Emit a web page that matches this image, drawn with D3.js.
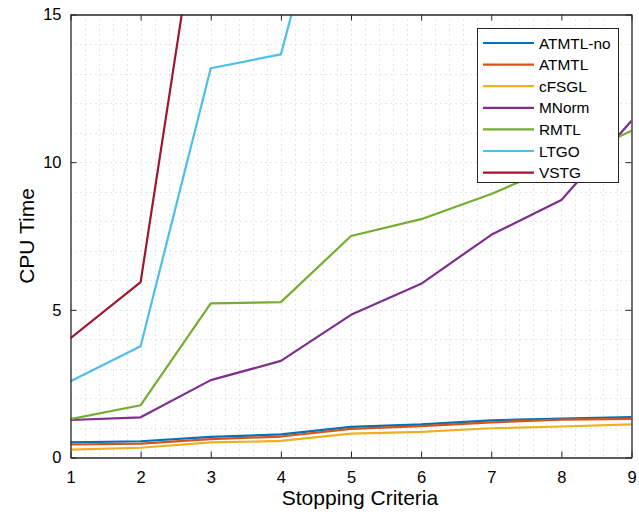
<!DOCTYPE html>
<html>
<head>
<meta charset="utf-8">
<script src="https://cdn.jsdelivr.net/npm/d3@7"></script>
<style>
  body { margin: 0; background: #fff; }
  text { font-family: "Liberation Sans", Arial, Helvetica, sans-serif; fill: #000; }
</style>
</head>
<body>
<svg id="chart" width="639" height="514"></svg>
<script>
// x = stopping criteria index
var criteria = [1, 2, 3, 4, 5, 6, 7, 8, 9];
var seriesNames = ["ATMTL-no", "ATMTL", "cFSGL", "MNorm", "RMTL", "LTGO", "VSTG"];
var seriesColors = ["#0072BD", "#D95319", "#EDB120", "#7E2F8E", "#77AC30", "#4DBEEE", "#A2142F"];

// CPU time values (LTGO/VSTG run past the top of the axis)
var atmtlNo = [0.51, 0.55, 0.70, 0.78, 1.04, 1.12, 1.26, 1.32, 1.37];
var atmtl   = [0.44, 0.47, 0.62, 0.71, 0.97, 1.06, 1.19, 1.28, 1.31];
var cfsgl   = [0.27, 0.33, 0.51, 0.56, 0.81, 0.87, 0.99, 1.05, 1.12];
var mnorm   = [1.27, 1.36, 2.62, 3.27, 4.83, 5.88, 7.54, 8.72, 11.4];
var rmtl    = [1.30, 1.77, 5.22, 5.26, 7.50, 8.07, 8.92, 9.95, 11.06];
var ltgo    = [2.58, 3.77, 13.18, 13.65, 22.5];
var vstg    = [4.04, 5.94, 21.4];

var yTicks = [0, 5, 10, 15];

var allSeries = [atmtlNo, atmtl, cfsgl, mnorm, rmtl, ltgo, vstg];

var svg = d3.select("#chart");
var mLeft = 70.5, mTop = 14.5, mRight = 631.5, mBottom = 457.5;

var xs = d3.scaleLinear().domain([1, 9]).range([mLeft, mRight]);
var ys = d3.scaleLinear().domain([0, 15]).range([mBottom, mTop]);

// grid (minor + major, dotted)
var grid = svg.append("g").attr("class", "grid");
grid.selectAll("line.gx")
    .data(d3.range(1.2, 8.9, 0.2))
    .enter().append("line")
    .attr("x1", d => Math.round(xs(d)) + 0.5)
    .attr("x2", d => Math.round(xs(d)) + 0.5)
    .attr("y1", mTop)
    .attr("y2", mBottom)
    .attr("stroke", "#cfcfcf")
    .attr("stroke-width", 1)
    .attr("stroke-dasharray", "1,4");
grid.selectAll("line.gy")
    .data(d3.range(1, 15))
    .enter().append("line")
    .attr("y1", d => Math.round(ys(d)) + 0.5)
    .attr("y2", d => Math.round(ys(d)) + 0.5)
    .attr("x1", mLeft)
    .attr("x2", mRight)
    .attr("stroke", "#cfcfcf")
    .attr("stroke-width", 1)
    .attr("stroke-dasharray", "1,4");

// lines
svg.append("clipPath").attr("id", "plotclip")
    .append("rect")
    .attr("x", mLeft).attr("y", mTop)
    .attr("width", mRight - mLeft).attr("height", mBottom - mTop);

var line = d3.line()
    .x((d, i) => xs(criteria[i]))
    .y(d => ys(d));

svg.append("g")
    .attr("clip-path", "url(#plotclip)")
    .selectAll("path")
    .data(allSeries)
    .enter().append("path")
    .attr("d", d => line(d))
    .attr("fill", "none")
    .attr("stroke", (d, i) => seriesColors[i])
    .attr("stroke-width", 2.2)
    .attr("stroke-linejoin", "round");

// axes: bottom/left with labels, top/right mirrored ticks
var xAxis = d3.axisBottom(xs).tickValues(criteria).tickSizeInner(-6).tickSizeOuter(0).tickPadding(13.5);
var yAxis = d3.axisLeft(ys).tickValues(yTicks).tickSizeInner(-6).tickSizeOuter(0).tickPadding(9);

svg.append("g")
    .attr("class", "axis")
    .attr("transform", `translate(0,${mBottom})`)
    .call(xAxis);
svg.append("g")
    .attr("class", "axis")
    .attr("transform", `translate(${mLeft},0)`)
    .call(yAxis);
svg.append("g")
    .attr("transform", `translate(0,${mTop})`)
    .call(d3.axisTop(xs).tickValues(criteria).tickSizeInner(-6).tickSizeOuter(0).tickFormat(""));
svg.append("g")
    .attr("transform", `translate(${mRight},0)`)
    .call(d3.axisRight(ys).tickValues(yTicks).tickSizeInner(-6).tickSizeOuter(0).tickFormat(""));

svg.selectAll(".domain").attr("stroke", "#262626").attr("stroke-width", 1.3);
svg.selectAll(".tick line").attr("stroke", "#262626");
svg.selectAll(".axis text")
    .style("font-size", "16.5px")
    .style("font-family", "Liberation Sans, Arial, sans-serif")
    .attr("fill", "#000");

// axis titles
svg.append("text")
    .attr("x", 360)
    .attr("y", 505)
    .attr("text-anchor", "middle")
    .style("font-size", "21px")
    .text("Stopping Criteria");

svg.append("text")
    .attr("transform", `translate(33.5,${(mTop + mBottom) / 2}) rotate(-90)`)
    .attr("text-anchor", "middle")
    .style("font-size", "21px")
    .text("CPU Time");

// legend
var legend = svg.append("g").attr("class", "legend");
legend.append("rect")
    .attr("x", 477.5).attr("y", 28.5)
    .attr("width", 141).attr("height", 154)
    .attr("fill", "#fff")
    .attr("stroke", "#262626")
    .attr("stroke-width", 1);

var entry = legend.selectAll("g.entry")
    .data(seriesNames)
    .enter().append("g")
    .attr("class", "entry")
    .attr("transform", (d, i) => `translate(0,${43 + i * 21.6})`);
entry.append("line")
    .attr("x1", 483).attr("x2", 534)
    .attr("stroke", (d, i) => seriesColors[i])
    .attr("stroke-width", 2.2);
entry.append("text")
    .attr("x", 539)
    .attr("y", 5.5)
    .style("font-size", "15.4px")
    .text(d => d);
</script>
</body>
</html>
